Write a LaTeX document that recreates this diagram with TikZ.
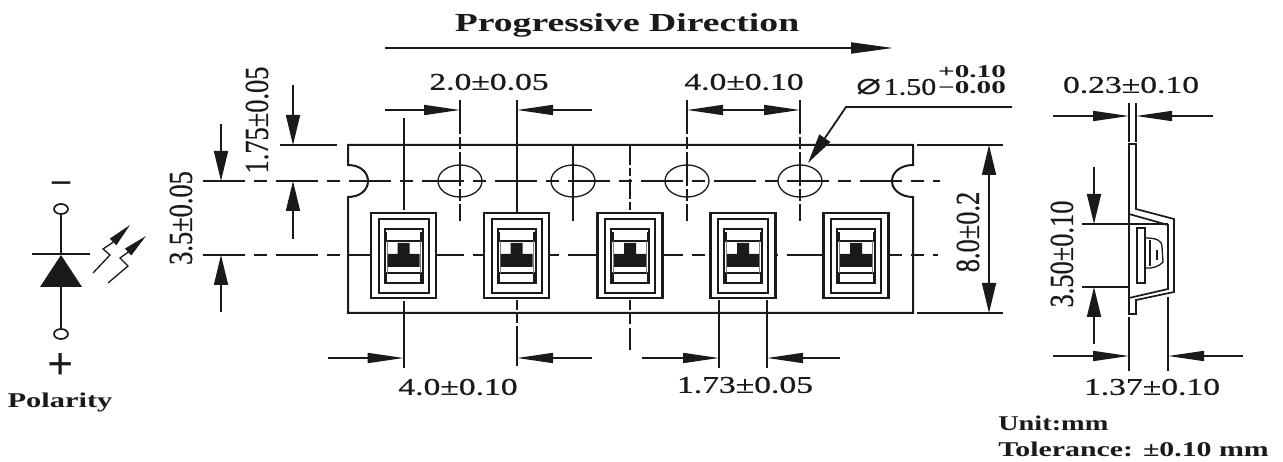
\documentclass[tikz,border=0pt]{standalone}
\usepackage{fontspec}
\setmainfont{Liberation Serif}
\newfontfamily\symf{DejaVu Sans}
\newfontfamily\dimf[FakeBold=0.6]{Liberation Serif}
\usetikzlibrary{arrows.meta}
\definecolor{ink}{HTML}{1A1A1A}
\tikzset{
  ln/.style={draw=ink,line width=1.7pt},
  thin ln/.style={draw=ink,line width=1.3pt},
  cl/.style={draw=ink,line width=1.5pt,dash pattern=on 42pt off 9pt on 13pt off 9pt},
  vcl/.style={draw=ink,line width=1.6pt,dash pattern=on 34pt off 3pt on 12pt off 3pt},
  ha/.style={ln,-{Triangle[length=36pt,width=10pt]}},
  va/.style={ln,-{Triangle[length=30pt,width=14pt]}},
  dimh/.style={font=\fontsize{24}{26}\selectfont\dimf,text=ink,inner sep=0pt,xscale=1.4,anchor=center},
  dimv/.style={font=\fontsize{24}{26}\selectfont\dimf,text=ink,inner sep=0pt,rotate=90,anchor=center},
  boldt/.style={font=\fontsize{21}{23}\selectfont\bfseries,text=ink,inner sep=0pt,xscale=1.45},
}
\begin{document}
\begin{tikzpicture}[x=1pt,y=-1pt]
\useasboundingbox[fill=white] (0,0) rectangle (1283,462);

% title
\node[boldt,font=\fontsize{26}{28}\selectfont\bfseries] (title) at (627,25) {Progressive Direction};
\draw[ln,-{Triangle[length=42pt,width=11pt]}] (385,48) -- (893,48);

% centre lines
\draw[cl] (203,181) -- (940,181);
\draw[cl] (203,255) -- (938,255);

% extension lines, top
\draw[ln] (403.7,118) -- (403.7,210);
\draw[vcl] (460,100) -- (460,221);
\draw[ln] (517,100) -- (517,212);
\draw[ln] (573,145) -- (573,221);
\draw[draw=ink,line width=1.6pt,dash pattern=on 20pt off 3pt on 8pt off 3pt] (630,145) -- (630,212);
\draw[vcl] (687,100) -- (687,221);
\draw[vcl] (800,100) -- (800,221);

% tape outline
\draw[ln,line width=2pt] (280,145) -- (337,145);
\draw[ln,line width=2pt] (348,197) .. controls (360,197) and (368,190) .. (368,181)
  .. controls (368,172) and (360,165) .. (348,165) -- (348,145) -- (913,145) -- (913,165)
  .. controls (901,165) and (892,172) .. (892,181)
  .. controls (892,190) and (901,197) .. (913,197) -- (913,313) -- (348,313) -- cycle;
\draw[ln] (917,145) -- (1003,145);
\draw[ln] (917,313) -- (1003,313);

% sprocket holes
\foreach \hx in {460,573,687,800}{
  \draw[thin ln] (\hx,181) ellipse [x radius=22pt,y radius=16pt];
}

% pockets
\foreach \cx in {403.7,516.7,630,743,856}{
  \begin{scope}[shift={(\cx,0)}]
    \draw[ln,line width=2.2pt,fill=white] (-32.5,213) rectangle (32.5,298);
    \draw[ln,line width=2.2pt] (-25,219) rectangle (25,293);
    \draw[ln,line width=2.2pt] (-19,229) rectangle (19,283);
    \draw[ln] (-19,241) -- (19,241);
    \draw[ln] (-19,273) -- (19,273);
    \draw[line width=.8pt,draw=ink!55] (-16.5,241) -- (-16.5,273);
    \draw[line width=.8pt,draw=ink!55] (16.5,241) -- (16.5,273);
    \fill[ink] (-16,254) -- (-6,254) -- (-6,243) -- (6,243) -- (6,254) -- (16,254) -- (16,267) -- (-16,267) -- cycle;
    \fill[ink] (-19,232) rectangle (-16.5,240);
    \fill[ink] (16.5,232) rectangle (19,240);
    \fill[ink] (-19,274) rectangle (-16.5,282);
    \fill[ink] (16.5,274) rectangle (19,282);
  \end{scope}
}

% extension lines, bottom
\draw[ln] (403.7,301) -- (403.7,368);
\draw[draw=ink,line width=1.7pt,dash pattern=on 10pt off 3pt on 10pt off 3pt on 60pt off 0pt] (517,300) -- (517,366);
\draw[draw=ink,line width=1.7pt,dash pattern=on 10pt off 4pt on 10pt off 4pt on 22pt off 0pt] (630,300) -- (630,350);
\draw[ln] (719,300) -- (719,368);
\draw[ln] (767,300) -- (767,368);

% horizontal dimensions on top
\draw[ha] (385,110) -- (460,110);
\draw[ha] (592,110) -- (517,110);
\draw[ln,{Triangle[length=36pt,width=10pt]}-{Triangle[length=36pt,width=10pt]}] (687,110) -- (800,110);
\node[dimh] (d20) at (489,82) {2.0±0.05};
\node[dimh] (d40t) at (744,82) {4.0±0.10};

% hole diameter
\draw[ln,line width=1.8pt,-{Triangle[length=30pt,width=13pt]}] (1012,107) -- (846,107) -- (808,163);
\node[font=\fontsize{30}{30}\selectfont\symf,text=ink,inner sep=0pt,xscale=1.4] (phi) at (869,87) {⌀};
\node[dimh,xscale=.893] (d150) at (910,87) {1.50};
\node[boldt,font=\fontsize{18}{18}\selectfont\bfseries,xscale=1.12] (dp) at (972,72) {+0.10};
\node[boldt,font=\fontsize{18}{18}\selectfont\bfseries,xscale=1.12] (dm) at (972,88) {−0.00};

% left dimensions
\draw[va] (293,85) -- (293,145);
\draw[va] (293,239) -- (293,181);
\draw[va] (221,124) -- (221,181);
\draw[va] (221,312) -- (221,255);
\node[dimv] (d175) at (257,120) {\scalebox{1.1}[1.4]{1.75±0.05}};
\node[dimv] (d35) at (181,218) {\scalebox{1.1}[1.4]{3.5±0.05}};

% tape width
\draw[ln,{Triangle[length=30pt,width=14pt]}-{Triangle[length=30pt,width=14pt]}] (989,145) -- (989,313);
\node[dimv] (d80) at (968,232) {\scalebox{1.1}[1.4]{8.0±0.2}};

% bottom dimensions
\draw[ha] (328,358) -- (403.7,358);
\draw[ha] (592,358) -- (517,358);
\draw[ha] (642,358) -- (719,358);
\draw[ha] (840,358) -- (767,358);
\node[dimh] (d40b) at (458,387) {4.0±0.10};
\node[dimh] (d173) at (745,385) {1.73±0.05};

% side view
\draw[ln] (1129,103) -- (1129,142);
\draw[ln] (1136,103) -- (1136,142);
\draw[ln] (1129,144) -- (1136,144) -- (1136,209) -- (1174,219) -- (1174,292) -- (1136,300) -- (1136,314) -- (1129,314) -- cycle;
\draw[ln] (1129,214) -- (1168,225) -- (1168,289) -- (1129,298);
\draw[ln] (1137,228) rectangle (1145,283);
\draw[thin ln] (1145,238) .. controls (1156,238) and (1162,240) .. (1162,247) -- (1163,262)
  .. controls (1160,266) and (1152,269) .. (1145,268);
\draw[thin ln] (1150,240) -- (1150,266);
\draw[thin ln] (1157,250) -- (1157,260);
\draw[ln] (1082,224) -- (1168,224);
\draw[ln] (1082,287) -- (1129,287);
\draw[ln] (1129,317) -- (1129,371);
\draw[ln] (1168,297) -- (1168,371);
\draw[ha] (1053,116) -- (1129,116);
\draw[ha] (1213,116) -- (1136,116);
\draw[ha] (1053,356) -- (1129,356);
\draw[ha] (1243,356) -- (1168,356);
\draw[va] (1094,167) -- (1094,224);
\draw[va] (1094,344) -- (1094,287);
\node[dimh] (d023) at (1131,85) {0.23±0.10};
\node[dimv] (d350) at (1062,254) {\scalebox{1.1}[1.4]{3.50±0.10}};
\node[dimh] (d137) at (1152,387) {1.37±0.10};

% diode symbol
\draw[ln,line width=2.4pt] (61,215) -- (61,254);
\draw[ln,line width=2.4pt] (61,287) -- (61,329);
\draw[ln,line width=1.7pt,fill=white] (61,209) ellipse [x radius=7pt,y radius=5pt];
\draw[ln,line width=1.7pt,fill=white] (61,334) ellipse [x radius=7pt,y radius=5pt];
\draw[ln,line width=1.8pt] (32,254) -- (90,254);
\fill[ink] (61,255) -- (82,287) -- (40,287) -- cycle;
\draw[thin ln,-{Triangle[length=24pt,width=9pt]}] (93,273) -- (110,255) -- (103,249) -- (112,243) -- (130,225);
\draw[thin ln,-{Triangle[length=24pt,width=9pt]}] (108,283) -- (128,266) -- (120,258) -- (127,253) -- (146,236);
\node[font=\fontsize{36}{36}\selectfont\bfseries,text=ink,inner sep=0pt] (neg) at (61,187) {–};
\node[font=\fontsize{46}{46}\selectfont\bfseries,text=ink,inner sep=0pt] (plus) at (61,367) {+};
\node[boldt] (pol) at (60,402) {Polarity};

% notes
\node[boldt,anchor=west,xscale=.93] (unit) at (998,423) {Unit:mm};
\node[boldt,anchor=west,xscale=.98] (tol) at (998,449) {Tolerance: ±0.10 mm};
\end{tikzpicture}
\end{document}
